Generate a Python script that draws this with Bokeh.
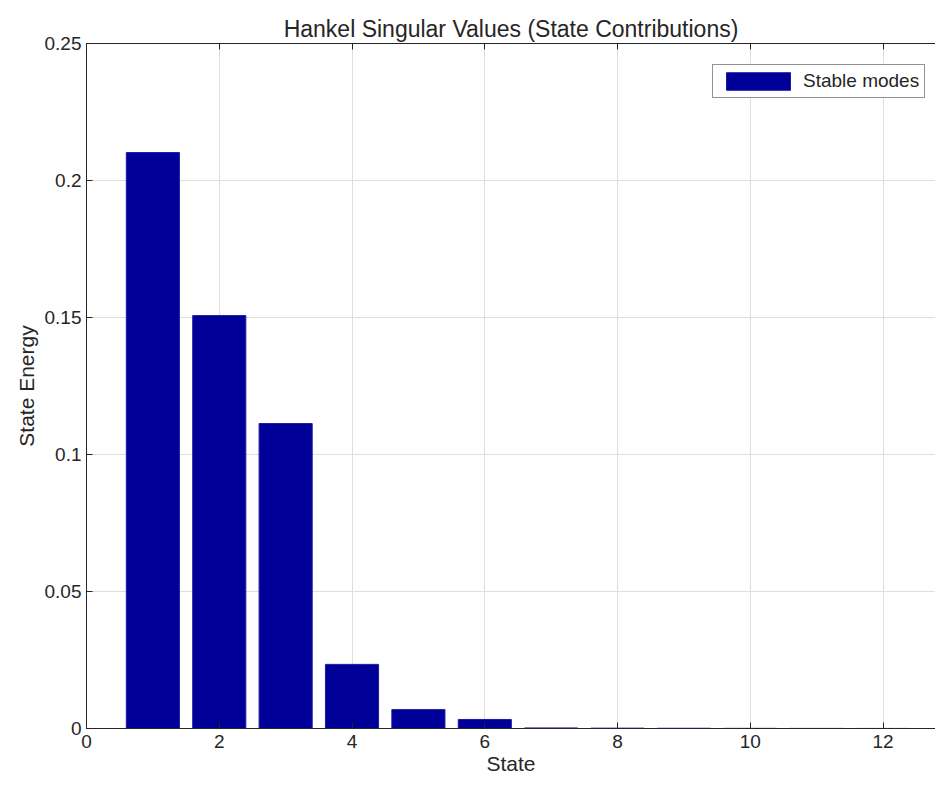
from bokeh.plotting import figure
from bokeh.models import ColumnDataSource, Range1d, LinearAxis, FixedTicker, Legend, LegendItem, CustomJSTickFormatter
from bokeh.embed import file_html
from bokeh.resources import INLINE

states = [1, 2, 3, 4, 5, 6, 7, 8, 9, 10, 11, 12]
energy = [0.2102, 0.1507, 0.1113, 0.0234, 0.0069, 0.0033, 0.0002, 0.00012, 0.00008, 0.00005, 0.00003, 0.00002]
x_ticks = [0, 2, 4, 6, 8, 10, 12]
y_ticks = [0, 0.05, 0.1, 0.15, 0.2, 0.25]
y_labels = {0: "0", 0.05: "0.05", 0.1: "0.1", 0.15: "0.15", 0.2: "0.2", 0.25: "0.25"}

FONT = "Liberation Sans"
TXT = "#262626"

src = ColumnDataSource(dict(x=states, top=energy))

p = figure(width=935, height=780, output_backend="svg", toolbar_location=None,
           x_range=Range1d(0, 12.79), y_range=Range1d(0, 0.25),
           min_border_left=86, min_border_top=43, min_border_bottom=52, min_border_right=0,
           title="Hankel Singular Values (State Contributions)")
p.outline_line_color = None
p.background_fill_color = "white"
p.border_fill_color = "white"

p.title.align = "center"
p.title.text_font = FONT
p.title.text_font_size = "23px"
p.title.text_font_style = "normal"
p.title.text_color = TXT
p.title.offset = 0
p.title.standoff = 4

r = p.vbar(x="x", top="top", width=0.8, source=src, fill_color="#000099", line_color="#1a1aa8", line_width=1)

for ax in (p.xaxis[0], p.yaxis[0]):
    ax.major_tick_in = 6
    ax.major_tick_out = 0
    ax.minor_tick_line_color = None
    ax.axis_line_color = TXT
    ax.major_tick_line_color = TXT
    ax.major_label_text_font = FONT
    ax.major_label_text_font_size = "19px"
    ax.major_label_text_color = TXT
    ax.axis_label_text_font = FONT
    ax.axis_label_text_font_size = "21px"
    ax.axis_label_text_font_style = "normal"
    ax.axis_label_text_color = TXT

p.xaxis[0].ticker = FixedTicker(ticks=x_ticks)
p.yaxis[0].ticker = FixedTicker(ticks=y_ticks)
p.yaxis[0].major_label_overrides = {v: s for v, s in y_labels.items()}
p.xaxis[0].axis_label = "State"
p.yaxis[0].axis_label = "State Energy"
p.xaxis[0].major_label_standoff = 6
p.xaxis[0].axis_label_standoff = 1
p.yaxis[0].major_label_standoff = 5
p.yaxis[0].axis_label_standoff = 4

top_ax = LinearAxis(ticker=FixedTicker(ticks=x_ticks),
                    formatter=CustomJSTickFormatter(code="return ''"),
                    major_label_standoff=0,
                    major_tick_in=6, major_tick_out=0, minor_tick_line_color=None,
                    axis_line_color=TXT, major_tick_line_color=TXT)
p.add_layout(top_ax, "above")

p.xgrid.ticker = FixedTicker(ticks=x_ticks)
p.ygrid.ticker = FixedTicker(ticks=y_ticks)
p.grid.grid_line_color = "#dedede"
p.grid.grid_line_width = 1

legend = Legend(items=[LegendItem(label="Stable modes", renderers=[r])], location=(626, 630))
legend.label_text_font = FONT
legend.label_text_font_size = "19px"
legend.label_text_color = TXT
legend.glyph_width = 80
legend.glyph_height = 22
legend.padding = 5
legend.margin = 0
legend.label_standoff = 5
legend.border_line_color = TXT
legend.border_line_width = 1
legend.background_fill_alpha = 1
p.add_layout(legend, "center")

open("out.html", "w").write(file_html(p, INLINE))
